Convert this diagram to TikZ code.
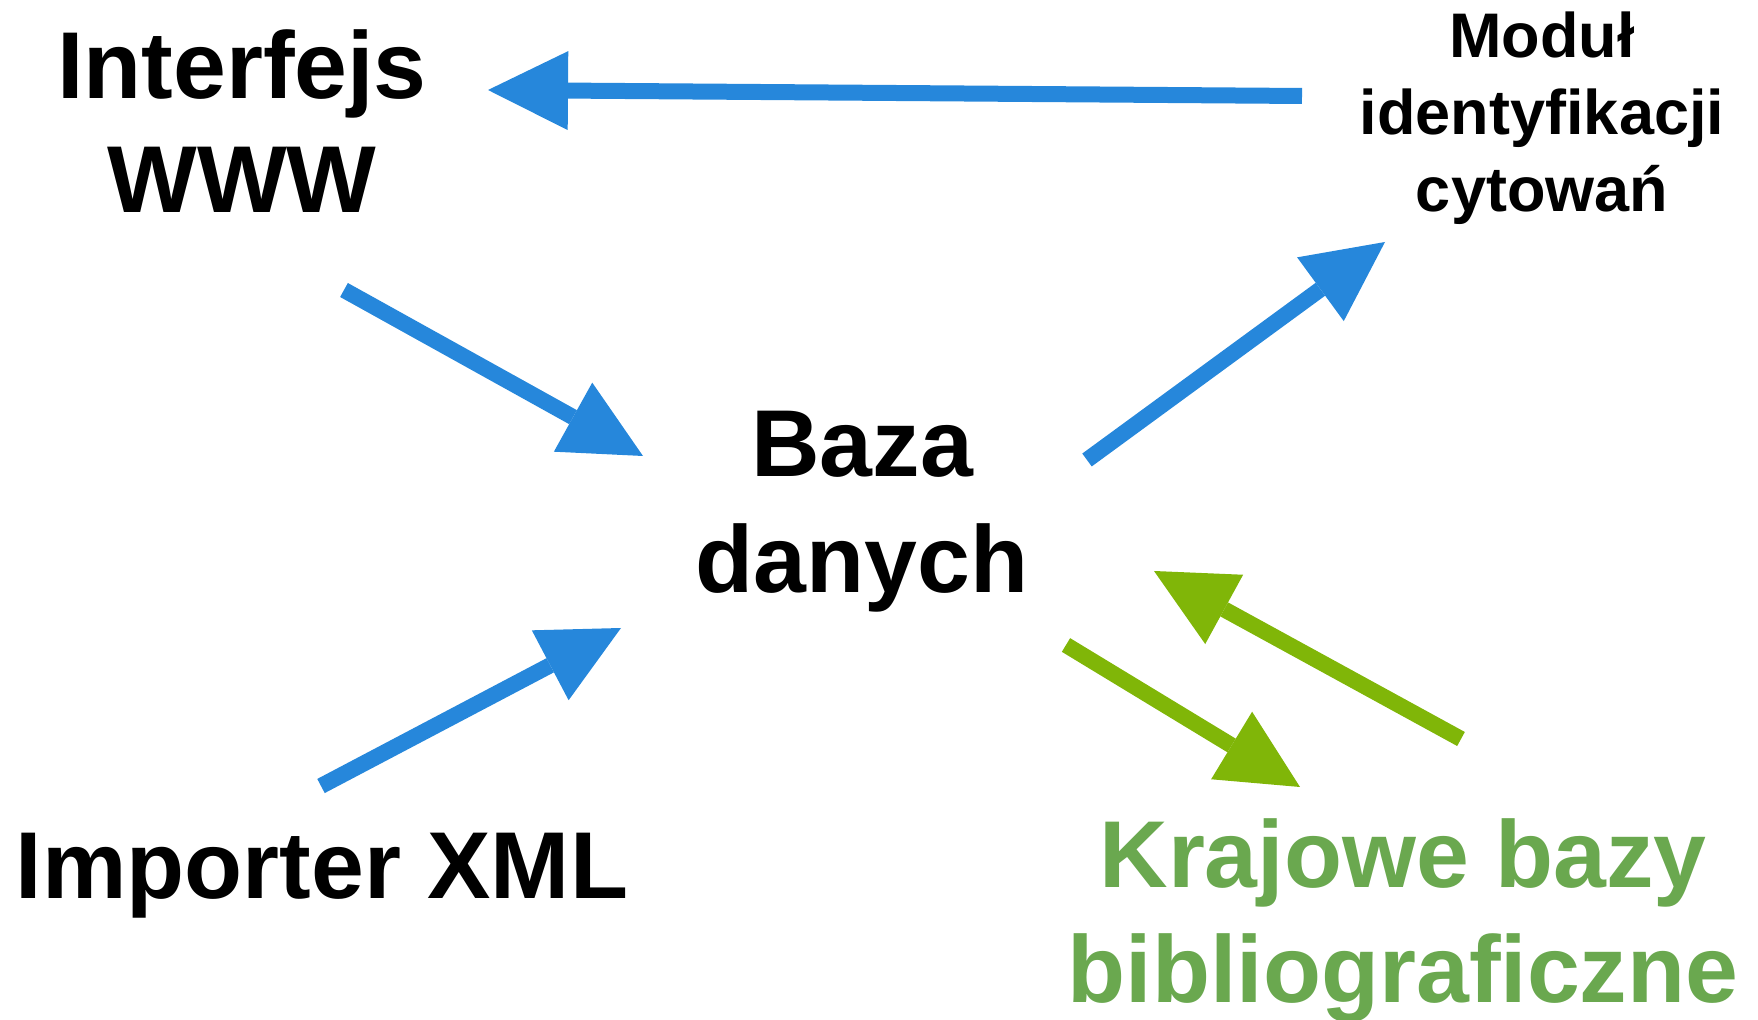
\documentclass[tikz,border=0pt]{standalone}
\usepackage{fontspec}
\setmainfont{Liberation Sans}
\usetikzlibrary{arrows.meta}
\definecolor{arrblue}{RGB}{38,135,219}
\definecolor{arrgreen}{RGB}{128,182,8}
\definecolor{txtgreen}{RGB}{106,168,79}
\begin{document}
\begin{tikzpicture}[x=0.5pt,y=-0.5pt,
  lbl/.style={inner sep=0pt, anchor=base},
  big/.style={font={\fontsize{47.5}{57}\selectfont\bfseries}},
  small/.style={font={\fontsize{31.5}{38.5}\selectfont\bfseries}},
  conn/.style={line width=8pt, -{Triangle[length=40pt,width=39.5pt,line width=0pt]}},
  blueconn/.style={conn, draw=arrblue, fill=arrblue},
  greenconn/.style={conn, draw=arrgreen, fill=arrgreen}]
\useasboundingbox (0,0) rectangle (1758,1020);

\node[lbl,big] (www) at (242,99) {\begin{tabular}[t]{@{}c@{}}Interfejs\\WWW\end{tabular}};
\node[lbl,font={\fontsize{47.5}{58}\selectfont\bfseries}] (baza) at (862,477) {\begin{tabular}[t]{@{}c@{}}Baza\\danych\end{tabular}};
\node[lbl,small] (modul) at (1542,58) {\begin{tabular}[t]{@{}c@{}}Moduł\\identyfikacji\\cytowań\end{tabular}};
\node[lbl,big] (xml) at (322,899) {Importer XML};
\node[lbl,font={\fontsize{47.5}{57.5}\selectfont\bfseries},text=txtgreen] (kraj) at (1403,888) {\begin{tabular}[t]{@{}c@{}}Krajowe bazy\\bibliograficzne\end{tabular}};

\coordinate (m2w-s) at (1302,96);   \coordinate (m2w-e) at (488,90);
\coordinate (w2b-s) at (344,290);   \coordinate (w2b-e) at (643,456);
\coordinate (b2m-s) at (1087,460);  \coordinate (b2m-e) at (1385,242);
\coordinate (x2b-s) at (321,786);   \coordinate (x2b-e) at (621,628);
\coordinate (b2k-s) at (1066,645);  \coordinate (b2k-e) at (1300,787);
\coordinate (k2b-s) at (1461,739);  \coordinate (k2b-e) at (1154,571);

\draw[blueconn] (m2w-s) -- (m2w-e);
\draw[blueconn] (w2b-s) -- (w2b-e);
\draw[blueconn] (b2m-s) -- (b2m-e);
\draw[blueconn] (x2b-s) -- (x2b-e);
\draw[greenconn] (b2k-s) -- (b2k-e);
\draw[greenconn] (k2b-s) -- (k2b-e);
\end{tikzpicture}
\end{document}
